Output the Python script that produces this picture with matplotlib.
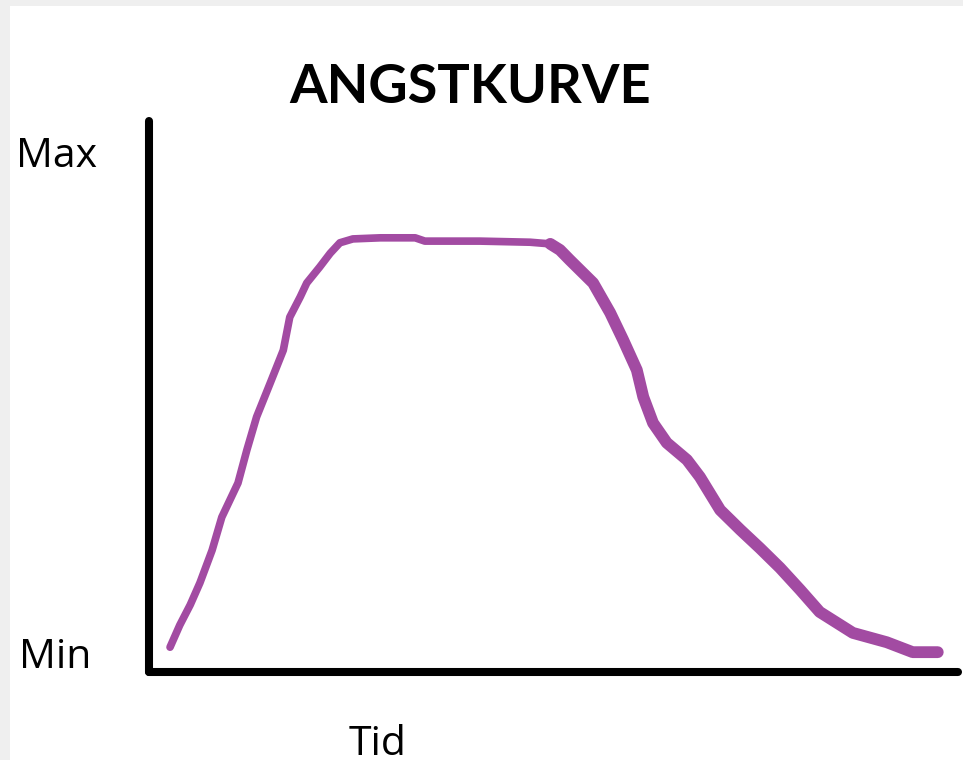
import matplotlib
matplotlib.use("Agg")
import matplotlib.pyplot as plt
import matplotlib.patches as mpatches
import matplotlib.transforms as mtransforms

# --- data ---
title = "ANGSTKURVE"
x_label = "Tid"
level_labels = ["Min", "Max"]
level_label_pos = [0.73, 91.65]   # baseline positions on the y scale

time = [2.6, 3.8, 5.1, 6.3, 7.8, 9.0, 11.0, 12.1, 13.3, 15.0, 16.6, 17.4, 18.7,
        19.5, 21.1, 22.4, 23.6, 25.2, 28.6, 32.9, 34.1, 40.9, 47.1, 49.6, 50.8,
        52.0, 54.9, 57.0, 58.6, 60.3, 61.1, 62.3, 64.0, 66.5, 68.1, 70.6, 73.1,
        75.5, 78.0, 80.5, 82.9, 87.0, 91.2, 94.4, 97.5]
anxiety = [4.5, 8.5, 12.2, 16.2, 22.1, 28.1, 34.3, 40.3, 46.3, 52.5, 58.4, 64.4,
           68.1, 70.6, 73.5, 76.0, 77.9, 78.6, 78.8, 78.8, 78.2, 78.2, 78.0, 77.7,
           76.6, 74.8, 70.6, 65.2, 60.3, 54.8, 49.9, 45.2, 41.6, 38.5, 35.4, 29.4,
           25.8, 22.5, 18.9, 14.9, 10.9, 7.1, 5.4, 3.6, 3.6]
split = 23  # where the drawn stroke becomes thicker (descending part)

W, H = 963, 760
fig = plt.figure(figsize=(W / 100, H / 100), dpi=100)
fig.patch.set_facecolor("#efefef")
fig.add_artist(mpatches.Rectangle((10 / W, 0), 1 - 10 / W, (H - 6) / H,
                                  transform=fig.transFigure, facecolor="white",
                                  edgecolor="none", zorder=0))

ax = fig.add_axes([149 / W, (H - 672) / H, 809 / W, 551 / H])
ax.set_facecolor("none")
ax.set_xlim(0, 100)
ax.set_ylim(0, 100)
ax.set_xticks([])
ax.set_yticks([])
for s in ("top", "right"):
    ax.spines[s].set_visible(False)
for s in ("left", "bottom"):
    ax.spines[s].set_linewidth(5.8)
    ax.spines[s].set_color("black")
    ax.spines[s].set_capstyle("round")

purple = "#a24ba2"
ax.plot(time[:split + 1], anxiety[:split + 1], color=purple, lw=5.5,
        solid_capstyle="round", solid_joinstyle="round")
ax.plot(time[split:], anxiety[split:], color=purple, lw=8.5,
        solid_capstyle="round", solid_joinstyle="round")

label_font = ["Open Sans", "DejaVu Sans"]
trans = mtransforms.blended_transform_factory(fig.transFigure, ax.transData)
for lab, yv in zip(level_labels, level_label_pos):
    ax.text(16 / W if lab == "Max" else 19 / W, yv, lab, transform=trans,
            ha="left", va="baseline", fontsize=29.5, family=label_font,
            color="black")

ax.text(0.282, -0.150, x_label, transform=ax.transAxes, ha="center",
        va="baseline", fontsize=29.5, family=label_font, color="black")

ax.text(0.397, 1.0327, title, transform=ax.transAxes, ha="center",
        va="baseline", fontsize=39, fontweight="bold",
        family=["Lato", "DejaVu Sans"], color="black")

fig.savefig("out.png", dpi=100)
